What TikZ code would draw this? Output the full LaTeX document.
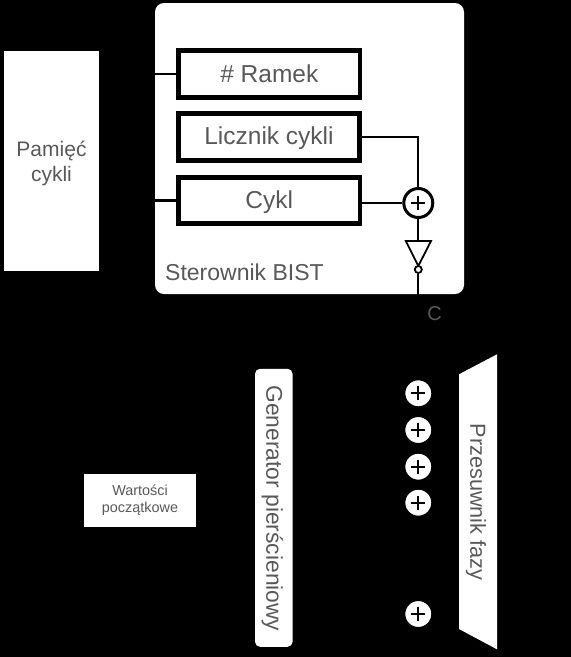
\documentclass[tikz,border=0pt]{standalone}
\usepackage{fontspec}
\setmainfont{Liberation Sans}
\definecolor{txt}{HTML}{595959}
\newcommand{\fs}[1]{\fontsize{#1}{#1}\selectfont}
\tikzset{
  wire/.style={draw=black,line width=2.2pt},
  blockbox/.style={draw=black,fill=white,line width=4.6pt,minimum width=181.5pt,minimum height=46.5pt,inner sep=0pt,text=txt,font=\fs{24.5},text height=17pt,text depth=1pt},
  plain/.style={fill=white,inner sep=0pt,text=txt,align=center},
  xorgate/.style={circle,draw=black,fill=white,line width=3pt,minimum size=29pt,inner sep=0pt,
    path picture={\draw[black,line width=1.8pt] ([xshift=-7pt]path picture bounding box.center) -- ([xshift=7pt]path picture bounding box.center);
                  \draw[black,line width=1.8pt] ([yshift=-7pt]path picture bounding box.center) -- ([yshift=7pt]path picture bounding box.center);}},
  lbl/.style={inner sep=0pt,text=txt}
}
\begin{document}
\begin{tikzpicture}[x=1pt,y=-1pt]
\useasboundingbox (0,0) rectangle (571,657);
\fill[black] (0,0) rectangle (571,657);
% containers
\node[plain,minimum width=309pt,minimum height=291pt,rounded corners=9pt] (ctrl) at (309.5,148.5) {};
\node[plain,minimum width=95.5pt,minimum height=219.5pt,font=\fs{21},text depth=0pt] (mem) at (51.5,161) {Pamięć\\[4pt]cykli};
\node[plain,minimum width=112pt,minimum height=52.5pt,font=\fs{14.4}] (init) at (140,500.3) {Wartości\\[3pt]początkowe};
\node[plain,rotate=-90,minimum width=278pt,minimum height=37.5pt,rounded corners=5pt,font=\fs{22.8}] (ring) at (273.8,507.8) {};
\node[lbl,rotate=-90,font=\fs{22.8}] (ringtext) at (272.3,508.5) {Generator pierścieniowy};
% phase shifter
\fill[white] (459,374.3) -- (497,354.3) -- (497,649.3) -- (459,629) -- cycle;
\node[lbl,rotate=-90,font=\fs{21.7}] (shift) at (476,502) {Przesuwnik fazy};
% blocks
\node[blockbox] (ramek) at (269.3,74) {\# Ramek};
\node[blockbox,minimum height=47pt] (licz) at (269,136.8) {Licznik cykli};
\node[blockbox] (cykl) at (269.3,200.5) {Cykl};
% gates
\node[xorgate] (x0) at (418.3,203) {};
\node[xorgate] (x1) at (418.3,393.3) {};
\node[xorgate] (x2) at (418.3,430) {};
\node[xorgate] (x3) at (418.3,466.7) {};
\node[xorgate] (x4) at (418.3,502.7) {};
\node[xorgate] (x5) at (418.3,614) {};
% inverter
\coordinate (invtop) at (418.3,241);
\coordinate (cout) at (418.3,296);
\draw[black,line width=1.8pt,fill=white,line join=miter] (405.8,241) -- (431,241) -- (418.3,266) -- cycle;
\node[circle,draw=black,fill=white,line width=1.8pt,minimum size=7pt,inner sep=0pt] (bub) at (418.3,269.5) {};
% wires
\draw[wire] (mem.east |- ramek.west) -- (ramek.west);
\draw[wire] (mem.east |- cykl.west) -- (cykl.west);
\draw[wire] (licz.east) -| (x0.north);
\draw[wire] (cykl.east |- x0.west) -- (x0.west);
\draw[wire] (x0.south) -- (invtop);
\draw[wire] (bub.south) -- (cout);
% labels
\node[lbl,anchor=base west,font=\fs{23}] (bist) at (165,280) {Sterownik BIST};
\node[lbl,anchor=base,font=\fs{20}] (clab) at (434.5,320) {C};
\end{tikzpicture}
\end{document}
